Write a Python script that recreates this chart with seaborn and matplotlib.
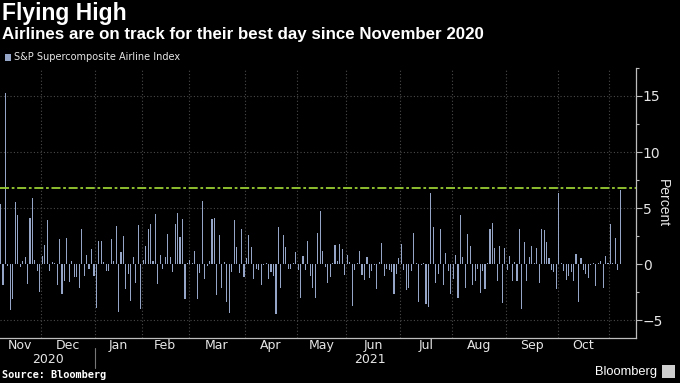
import numpy as np
import pandas as pd
import matplotlib
matplotlib.use('Agg')
import matplotlib.pyplot as plt
from matplotlib.lines import Line2D
from matplotlib.patches import Rectangle
from matplotlib.transforms import blended_transform_factory
import seaborn as sns

# daily % change of the S&P Supercomposite Airline Index
pct_change = [
    5.4, -1.9, 15.3, -0.2, -4.1, -3.1, 5.5, 4.4, -0.3, 0.3, 0.6, -1.8, 4.1, 5.9, 0.35, -0.6, -2.5,
    0.7, 1.7, 3.9, -0.6, 0.2, 0.05, -1.9, 2.2, -2.7, -1.5, 2.3, -1.6, 0.3, -1.2, -1.2, -2.1, 3.1,
    -1.1, 0.85, -0.4, 1.3, -1.1, -3.9, 2.1, 2.1, 0.2, -0.6, -0.6, 2.2, 0.3, 3.4, -4.3, 1.1, 2.5,
    -2.2, -0.9, -3.3, 0.6, -1.7, 3.5, -4.0, 0.4, 1.6, 3.1, 3.6, 0.3, 4.5, -1.8, 0.85, -0.4,
    0.6, 2.7, 0.6, -0.7, 3.6, 4.6, 2.4, 4.0, -3.1, 0.05, 0.35, 0.1, 1.15, -3.1, -0.8, 5.6, -1.3,
    -0.2, 0.3, 4.0, 4.1, -2.8, 2.6, -2.1, 0.2, -3.4, -4.4, -0.7, 3.9, 1.5, -0.8, 3.1, -1.2,
    0.5, 2.6, 1.5, -1.35, -0.4, -0.55, -1.85, -0.1, 0.05, -1.3, -0.7, -1.05, -4.5, 3.3, -2.1, 2.6,
    1.5, -0.4, -0.4, 0.05, 1.1, -0.55, -3.0, 0.7, -0.5, 2.1, -1.05, -2.1, -3.0, 2.8, 4.7, 1.2,
    -0.25, -1.7, -1.2, 0.05, 1.7, 0.3, 1.8, 1.3, -1.0, 0.8, 0.2, -3.7, -0.5, 0.05, 1.2, -1.0, -1.45,
    0.6, -1.25, -0.6, -0.05, -2.2, 0.2, 1.9, -1.05, -0.4, -0.5, -0.75, -2.7, -0.85, 0.5, 1.8, -0.5,
    -2.3, -2.1, -0.6, 2.8, 0.05, -3.4, -0.05, 0.05, -3.6, -3.8, 6.3, 3.3, -1.7, -0.9, 3.1, -1.9,
    1.0, -0.6, -2.7, -1.35, 0.85, -3.0, 4.4, 0.6, -2.1, 2.7, 1.65, -1.9, -1.5, -0.4, -2.6, -0.6,
    -2.2, 0.05, 3.1, 3.7, 1.45, -1.5, 1.65, -3.5, 1.45, -0.5, 0.7, -1.5, 0.2, -1.55, 3.1, -4.0,
    2.0, -1.5, 0.6, 1.6, 0.05, 1.45, -1.65, 3.1, 3.0, 1.95, 0.5, -0.5, -0.75,
    -2.2, 6.3, 0.05, -0.6, -1.4, -1.05, -0.75, -1.5, 0.9, -3.4, 0.5, -0.55, -0.9, -1.25,
    -0.05, 0.05, -2.0, 0.05, 0.3, -2.1, 0.7, 0.05, 3.6, 0.05, 2.3, -0.55, 6.6,
]
start_date, end_date = '2020-11-05', '2021-11-05'
nyse_holidays = ['2020-11-26', '2020-12-25', '2021-01-01', '2021-01-18', '2021-02-15',
                 '2021-04-02', '2021-05-31', '2021-07-05', '2021-09-06']
month_labels = ['Nov', 'Dec', 'Jan', 'Feb', 'Mar', 'Apr', 'May', 'Jun', 'Jul', 'Aug', 'Sep', 'Oct']
year_labels = ['2020', '2021']
y_ticks = [-5, 0, 5, 10, 15]
todays_move = 6.8

BG = 'black'
BAR = '#95a5c8'
GRID = '#4a4a4a'
AXC = '#bdbdbd'
TXT = '#e6e6e6'
NARROW = ['Liberation Sans Narrow', 'DejaVu Sans']
SANS = ['Liberation Sans', 'DejaVu Sans']

dates = pd.bdate_range(start_date, end_date, freq='C', holidays=nyse_holidays)
n = min(len(dates), len(pct_change))
df = pd.DataFrame({'date': dates[:n], 'pct': pct_change[:n]})
df['idx'] = np.arange(n)
df['month'] = df['date'].dt.to_period('M')

sns.set_style('dark')
plt.rcParams['font.family'] = SANS

fig = plt.figure(figsize=(6.8, 3.83), dpi=100, facecolor=BG)
ax = fig.add_axes([0.0, 0.1175, 0.935, 0.705], facecolor=BG)

sns.barplot(data=df, x='idx', y='pct', color=BAR, width=0.45, linewidth=0,
            errorbar=None, saturation=1, ax=ax)
# crisp, even bars at this tiny width
for p in ax.patches:
    p.set_antialiased(False)

ax.axhline(todays_move, color='#9acd32', lw=1.3, dashes=(5, 1.5, 1.5, 1.5), zorder=3)

ax.set_xlim(-0.2, 258.3)
ax.set_ylim(-6.6, 17.2)

# months: labels at centres, ticks/grid at boundaries
firsts = df.groupby('month')['idx'].min()
centres = df.groupby('month')['idx'].mean()
bounds = (firsts.values[1:] - 0.5)
ax.set_xticks(centres.values[:len(month_labels)], month_labels)
ax.set_xticks(bounds, minor=True)
ax.tick_params(axis='x', which='major', length=0, pad=1, labelsize=9, labelcolor=TXT)
ax.tick_params(axis='x', which='minor', length=3, width=0.8, color=AXC, direction='out')
for lab in ax.get_xticklabels():
    lab.set_family(NARROW)
ax.set_xlabel('')

ax.yaxis.tick_right()
ax.yaxis.set_label_position('right')
ax.set_yticks(y_ticks)
ax.set_yticks(np.arange(-5, 17.6, 2.5), minor=True)
ax.tick_params(axis='y', which='major', length=4, width=0.8, color=AXC, pad=1,
               labelsize=10, labelcolor=TXT)
ax.tick_params(axis='y', which='minor', length=2.5, width=0.8, color=AXC)
for lab in ax.get_yticklabels():
    lab.set_family(NARROW)
ax.set_ylabel('Percent', rotation=270, color=TXT, fontsize=10, labelpad=5)

ax.grid(False)
for y in y_ticks:
    if y != 0:
        ax.axhline(y, color=GRID, lw=0.8, ls=(0, (1, 2)), zorder=0)
for b in bounds:
    ax.axvline(b, color=GRID, lw=0.8, ls=(0, (1, 2)), zorder=0)

for side in ['left', 'top']:
    ax.spines[side].set_visible(False)
for side in ['right', 'bottom']:
    ax.spines[side].set_visible(True)
    ax.spines[side].set_color(AXC)
    ax.spines[side].set_linewidth(0.9)

# year labels under the months
trans = blended_transform_factory(ax.transData, fig.transFigure)
jan = bounds[1]
ax.text(jan / 2, 0.062, year_labels[0], transform=trans, ha='center', va='center',
        color=TXT, fontsize=9, family=NARROW)
ax.text((jan + 258.3) / 2 + 2, 0.062, year_labels[1], transform=trans, ha='center', va='center',
        color=TXT, fontsize=9, family=NARROW)
fig.add_artist(Line2D([jan, jan], [0.040, 0.092], transform=trans, color='#777777', lw=0.8))

# titles and legend
fig.text(0.003, 0.995, 'Flying High', color='white', fontsize=16.5, fontweight='bold', va='top')
fig.text(0.003, 0.911, 'Airlines are on track for their best day since November 2020',
         color='white', fontsize=12.2, fontweight='bold', va='center')
fig.add_artist(Rectangle((0.007, 0.841), 0.009, 0.018, transform=fig.transFigure,
                         facecolor=BAR, edgecolor='none'))
fig.text(0.02, 0.850, 'S&P Supercomposite Airline Index', color=TXT, fontsize=7,
         va='center', family=NARROW)

fig.text(0.003, 0.02, 'Source: Bloomberg', color='white', fontsize=7.4, fontweight='bold',
         va='center', family=['DejaVu Sans Mono', 'DejaVu Sans'])
fig.text(0.966, 0.028, 'Bloomberg', color='white', fontsize=9.3, ha='right', va='center')
fig.add_artist(Rectangle((0.973, 0.012), 0.02, 0.036, transform=fig.transFigure,
                         facecolor='#cfcfcf', edgecolor='none'))

fig.savefig('out.png', dpi=100, facecolor=BG)
